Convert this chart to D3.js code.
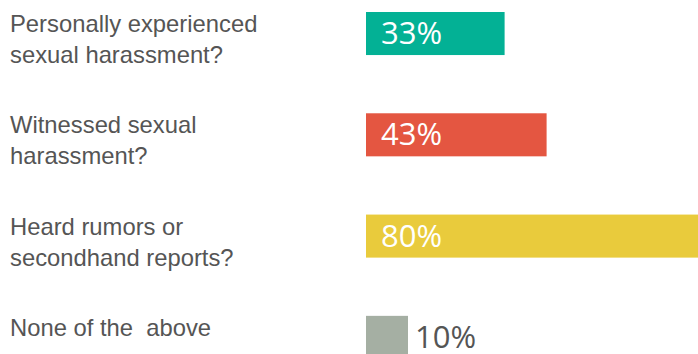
<!DOCTYPE html>
<html lang="en">
<head>
    <meta charset="UTF-8">
    <title>Sexual harassment survey</title>
    <script src="https://d3js.org/d3.v7.min.js"></script>
    <style>
        html, body { margin: 0; padding: 0; background: #fff; }
        svg { display: block; }
        .label { font-family: 'Liberation Sans', Arial, sans-serif; font-size: 23.8px; fill: #555; white-space: pre; }
        .value { font-family: 'Open Sans', sans-serif; font-size: 31px; }
    </style>
</head>
<body>
<div id="chart"></div>
<script>
    // Question labels, one entry per line of text
    const categories = [
        ["Personally experienced", "sexual harassment?"],
        ["Witnessed sexual", "harassment?"],
        ["Heard rumors or", "secondhand reports?"],
        ["None of the  above"]
    ];
    const values = [33, 43, 80, 10];
    const colors = ["#03b195", "#e45641", "#e9cb3c", "#a5afa3"];

    const width = 698, height = 354;
    const keys = categories.map((c, i) => i);

    const svg = d3.select("#chart").append("svg")
        .attr("width", width)
        .attr("height", height);

    const x = d3.scaleLinear()
        .domain([0, 100])
        .range([366, 786]);

    const y = d3.scaleBand()
        .domain(keys)
        .range([12, 12 + 3 * 101.3 + 43])
        .paddingInner(0.575)
        .paddingOuter(0);

    // Bars
    svg.selectAll("rect.bar")
        .data(values)
        .join("rect")
        .attr("class", "bar")
        .attr("x", x(0))
        .attr("y", (d, i) => y(i))
        .attr("width", d => x(d) - x(0))
        .attr("height", y.bandwidth())
        .attr("fill", (d, i) => colors[i]);

    // Question labels on the left
    const labels = svg.selectAll("text.label")
        .data(categories)
        .join("text")
        .attr("class", "label")
        .attr("x", 10)
        .attr("y", (d, i) => y(i) + 20);

    labels.selectAll("tspan")
        .data(d => d)
        .join("tspan")
        .attr("x", 10)
        .attr("dy", (d, j) => j === 0 ? 0 : 31)
        .text(d => d);

    // Value labels: inside the bar in white, or just past a short bar in grey
    svg.selectAll("text.value")
        .data(values)
        .join("text")
        .attr("class", "value")
        .attr("x", d => d < 20 ? x(d) + 7 : x(0) + 15)
        .attr("y", (d, i) => y(i) + 32)
        .attr("fill", d => d < 20 ? "#555" : "#fff")
        .text(d => d + "%");
</script>
</body>
</html>
